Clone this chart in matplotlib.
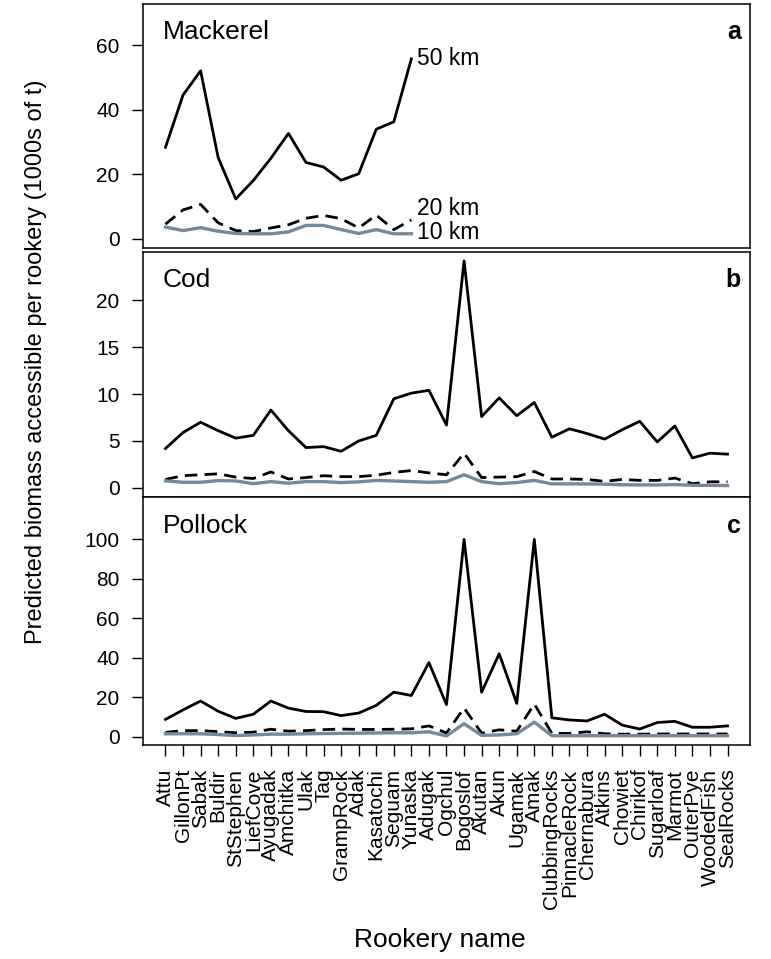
import matplotlib
matplotlib.use("Agg")
import matplotlib.pyplot as plt

plt.rcParams['font.family'] = ['Liberation Sans', 'DejaVu Sans']

# --- data (1000s of t) ---
rookeries = ['Attu', 'GillonPt', 'Sabak', 'Buldir', 'StStephen', 'LiefCove',
             'Ayugadak', 'Amchitka', 'Ulak', 'Tag', 'GrampRock', 'Adak',
             'Kasatochi', 'Seguam', 'Yunaska', 'Adugak', 'Ogchul', 'Bogoslof',
             'Akutan', 'Akun', 'Ugamak', 'Amak', 'ClubbingRocks', 'PinnacleRock',
             'Chernabura', 'Atkins', 'Chowiet', 'Chirikof', 'Sugarloaf', 'Marmot',
             'OuterPye', 'WoodedFish', 'SealRocks']

# mackerel only reported for the western rookeries (Attu..Yunaska)
mackerel_50 = [28.4, 44.6, 52.1, 25.2, 12.4, 18.1, 25.0, 32.7, 23.7, 22.3,
               18.2, 20.2, 34.0, 36.3, 55.8]
mackerel_20 = [4.6, 9.0, 10.7, 5.0, 2.6, 2.3, 3.4, 4.4, 6.4, 7.3,
               6.3, 3.4, 7.4, 2.9, 5.9]
mackerel_10 = [3.7, 2.6, 3.5, 2.4, 1.7, 1.6, 1.6, 2.2, 4.2, 4.2,
               2.9, 1.7, 2.9, 1.6, 1.6]

cod_50 = [4.2, 5.9, 7.0, 6.1, 5.3, 5.6, 8.3, 6.1, 4.3, 4.4, 3.9, 5.0, 5.6, 9.5,
          10.1, 10.4, 6.7, 24.2, 7.6, 9.6, 7.7, 9.1, 5.4, 6.3, 5.8, 5.2, 6.2,
          7.1, 4.9, 6.6, 3.2, 3.7, 3.6]
cod_20 = [0.9, 1.3, 1.4, 1.5, 1.15, 1.0, 1.7, 0.95, 1.1, 1.3, 1.2, 1.2, 1.35,
          1.65, 1.85, 1.6, 1.4, 3.7, 1.1, 1.15, 1.2, 1.75, 0.95, 0.95, 0.9, 0.7,
          0.9, 0.8, 0.8, 1.05, 0.45, 0.65, 0.65]
cod_10 = [0.75, 0.6, 0.6, 0.78, 0.74, 0.45, 0.67, 0.5, 0.67, 0.67, 0.57, 0.64,
          0.8, 0.74, 0.67, 0.6, 0.67, 1.4, 0.67, 0.45, 0.57, 0.8, 0.43, 0.43,
          0.42, 0.4, 0.33, 0.32, 0.32, 0.35, 0.28, 0.27, 0.25]

pollock_50 = [8.7, 13.5, 18.0, 12.8, 9.2, 11.3, 18.0, 14.4, 12.7, 12.6, 10.6,
              11.9, 15.8, 22.5, 20.8, 37.5, 16.2, 100.0, 22.5, 42.0, 16.8,
              100.0, 9.5, 8.4, 7.9, 11.3, 5.8, 3.8, 7.1, 7.7, 4.7, 4.7, 5.4]
pollock_20 = [2.1, 3.0, 3.0, 2.5, 1.9, 2.2, 3.7, 2.7, 3.0, 3.5, 3.8, 3.6, 3.6,
              3.7, 3.9, 5.4, 1.8, 14.5, 1.7, 3.4, 2.7, 16.5, 1.6, 1.6, 2.4, 1.4,
              1.2, 1.2, 1.3, 1.3, 1.3, 1.3, 1.3]
pollock_10 = [1.4, 1.4, 1.4, 1.0, 0.5, 0.8, 1.2, 1.2, 1.4, 1.5, 1.6, 1.7, 1.8,
              1.9, 1.9, 2.4, 0.3, 6.5, 0.6, 0.8, 1.4, 7.3, 0.4, 0.4, 0.4, 0.4,
              0.4, 0.4, 0.4, 0.4, 0.4, 0.4, 0.4]

GREY = '#778899'
W, H = 771, 959

fig = plt.figure(figsize=(W / 100, H / 100), dpi=100)


def add_panel(top, bottom, left=143, right=750):
    return fig.add_axes([left / W, 1 - bottom / H, (right - left) / W, (bottom - top) / H])


ax_a = add_panel(4, 248)
ax_b = add_panel(251.5, 497)
ax_c = add_panel(497, 745)

panels = [
    (ax_a, 'Mackerel', 'a', mackerel_50, mackerel_20, mackerel_10, [0, 20, 40, 60], (-2.8, 72.8)),
    (ax_b, 'Cod', 'b', cod_50, cod_20, cod_10, [0, 5, 10, 15, 20], (-0.97, 25.2)),
    (ax_c, 'Pollock', 'c', pollock_50, pollock_20, pollock_10, [0, 20, 40, 60, 80, 100], (-4.3, 121.5)),
]

n = len(rookeries)
for ax, name, letter, s50, s20, s10, yt, yl in panels:
    ax.plot(range(len(s50)), s50, color='black', lw=2.0)
    ax.plot(range(len(s20)), s20, color='black', lw=2.0, dashes=(4.5, 2.6))
    ax.plot(range(len(s10)), s10, color=GREY, lw=2.4)
    ax.set_xlim(-0.04 * (n - 1), (n - 1) * 1.04)
    ax.set_ylim(*yl)
    ax.set_yticks(yt)
    ax.tick_params(axis='y', direction='out', length=8, width=1.0, pad=9, labelsize=15)
    for sp in ax.spines.values():
        sp.set_linewidth(1.1)
    ax.text(0.033, 0.885, name, transform=ax.transAxes, fontsize=19,
            ha='left', va='center')
    ax.text(0.985, 0.885, letter, transform=ax.transAxes, fontsize=18,
            fontweight='bold', ha='right', va='center')
    if ax is ax_c:
        ax.set_xticks(range(n))
        ax.set_xticklabels(rookeries, rotation=90, fontsize=15)
        ax.tick_params(axis='x', direction='out', length=8, width=1.0, pad=9)
    else:
        ax.set_xticks([])

# distance labels on the mackerel panel
ax_a.text(14.3, 56.0, '50 km', fontsize=16.5, ha='left', va='center')
ax_a.text(14.3, 9.4, '20 km', fontsize=16.5, ha='left', va='center')
ax_a.text(14.3, 2.0, '10 km', fontsize=16.5, ha='left', va='center')

fig.text(36 / W, 1 - 362 / H, 'Predicted biomass accessible per rookery (1000s of t)',
         rotation=90, fontsize=17, ha='center', va='center')
fig.text(440 / W, 1 - 940 / H, 'Rookery name', fontsize=19, ha='center', va='center')

fig.savefig('out.png', dpi=100)
